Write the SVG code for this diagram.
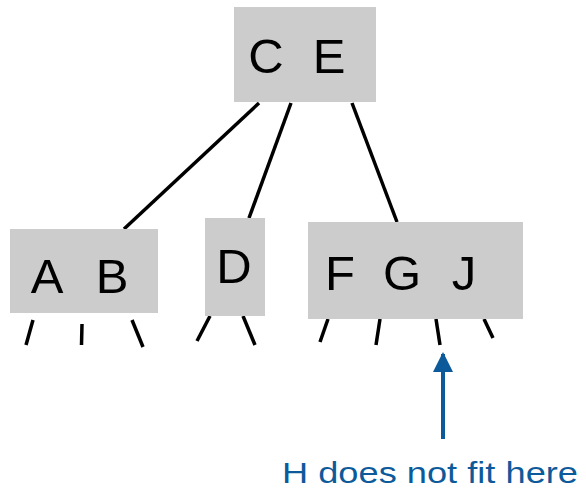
<svg xmlns="http://www.w3.org/2000/svg" width="586" height="488" viewBox="0 0 586 488">
  <style>
    .box { fill: #cccccc; }
    .lbl { font-family: "Comic Sans MS", "Liberation Sans", sans-serif; font-size: 49px; fill: #000; text-anchor: middle; }
    .edge { stroke: #000; stroke-width: 3.5; fill: none; }
    .note { font-family: "Comic Sans MS", "Liberation Sans", sans-serif; font-size: 30px; fill: #0d5a9a; }
  </style>
  <defs>
    <marker id="ah" viewBox="0 0 10 10" refX="9" refY="5" markerWidth="5" markerHeight="5" markerUnits="strokeWidth" orient="auto">
      <path d="M0,0 L10,5 L0,10 Z" fill="#0d5a9a"/>
    </marker>
  </defs>
  <g id="connectors">
    <line class="edge" x1="259" y1="103" x2="124" y2="229"/>
    <line class="edge" x1="291" y1="103" x2="249" y2="218"/>
    <line class="edge" x1="352" y1="103" x2="397" y2="222"/>
    <line class="edge" x1="33" y1="320" x2="26" y2="345"/>
    <line class="edge" x1="82" y1="324" x2="81.5" y2="345"/>
    <line class="edge" x1="132" y1="320" x2="143" y2="347"/>
    <line class="edge" x1="210" y1="316" x2="197" y2="341"/>
    <line class="edge" x1="243" y1="316" x2="255" y2="345"/>
    <line class="edge" x1="328" y1="319" x2="320" y2="342"/>
    <line class="edge" x1="380" y1="319" x2="376" y2="345"/>
    <line class="edge" x1="436" y1="319" x2="440" y2="345"/>
    <line class="edge" x1="484" y1="319" x2="493" y2="338"/>
    <line x1="443" y1="439" x2="443" y2="354" stroke="#0d5a9a" stroke-width="4" marker-end="url(#ah)"/>
  </g>
  <g id="node-CE">
    <rect class="box" x="234" y="7" width="142" height="95"/>
    <text class="lbl" x="266" y="73">C</text>
    <text class="lbl" x="329" y="73">E</text>
  </g>
  <g id="node-AB">
    <rect class="box" x="10" y="229" width="148" height="84"/>
    <text class="lbl" x="47" y="293">A</text>
    <text class="lbl" x="112" y="293">B</text>
  </g>
  <g id="node-D">
    <rect class="box" x="205" y="218" width="60" height="98"/>
    <text class="lbl" x="234" y="283">D</text>
  </g>
  <g id="node-FGJ">
    <rect class="box" x="308" y="222" width="215" height="97"/>
    <text class="lbl" x="340" y="290">F</text>
    <text class="lbl" x="402" y="290">G</text>
    <text class="lbl" x="464" y="290">J</text>
  </g>
  <g id="note">
    <text class="note" x="282" y="483" textLength="296" lengthAdjust="spacingAndGlyphs">H does not fit here</text>
  </g>
</svg>
